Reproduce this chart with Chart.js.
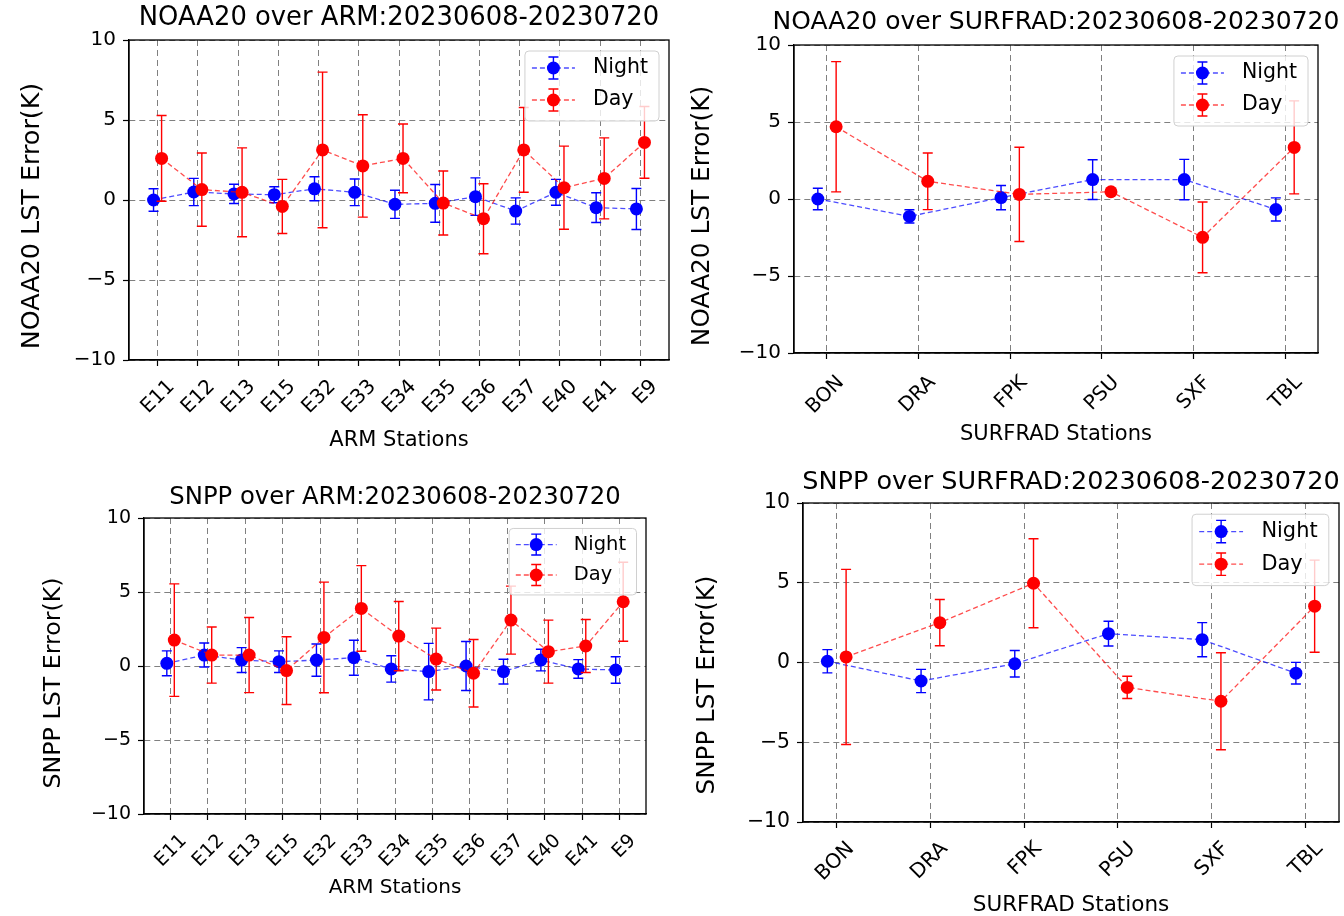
<!DOCTYPE html>
<html>
<head>
<meta charset="utf-8">
<title>LST Error over ARM and SURFRAD</title>
<script src="https://cdn.jsdelivr.net/npm/chart.js@4/dist/chart.umd.min.js"></script>
<style>
  body { margin: 0; background: #fff; width: 1344px; height: 916px; position: relative; overflow: hidden; }
  canvas { position: absolute; }
</style>
</head>
<body>
<canvas id="p1" width="672" height="458" style="left:0;top:0"></canvas>
<canvas id="p2" width="672" height="458" style="left:672px;top:0"></canvas>
<canvas id="p3" width="672" height="458" style="left:0;top:458px"></canvas>
<canvas id="p4" width="672" height="458" style="left:672px;top:458px"></canvas>
<script>
const FONT = "'DejaVu Sans', sans-serif";

// categories
const armStations = ["E11", "E12", "E13", "E15", "E32", "E33", "E34", "E35", "E36", "E37", "E40", "E41", "E9"];
const surfradStations = ["BON", "DRA", "FPK", "PSU", "SXF", "TBL"];
const yTicks = [-10, -5, 0, 5, 10];

// NOAA20 over ARM
const noaaArmNight = [0.0, 0.5, 0.38, 0.33, 0.7, 0.48, -0.27, -0.21, 0.21, -0.69, 0.48, -0.48, -0.56];
const noaaArmNightErr = [0.7, 0.85, 0.6, 0.5, 0.75, 0.83, 0.88, 1.18, 1.17, 0.82, 0.81, 0.93, 1.28];
const noaaArmDay = [2.6, 0.65, 0.48, -0.4, 3.13, 2.13, 2.6, -0.19, -1.17, 3.13, 0.77, 1.35, 3.6];
const noaaArmDayErr = [2.68, 2.29, 2.78, 1.69, 4.86, 3.2, 2.15, 2.0, 2.19, 2.65, 2.6, 2.53, 2.24];

// NOAA20 over SURFRAD
const noaaSurfNight = [0.0, -1.13, 0.09, 1.26, 1.26, -0.68];
const noaaSurfNightErr = [0.7, 0.43, 0.79, 1.29, 1.31, 0.75];
const noaaSurfDay = [4.69, 1.15, 0.3, 0.47, -2.49, 3.35];
const noaaSurfDayErr = [4.23, 1.84, 3.06, 0.2, 2.3, 3.02];

// SNPP over ARM
const snppArmNight = [0.18, 0.74, 0.4, 0.29, 0.4, 0.56, -0.2, -0.38, 0.0, -0.38, 0.4, -0.2, -0.27];
const snppArmNightErr = [0.84, 0.81, 0.84, 0.73, 1.09, 1.18, 0.89, 1.91, 1.66, 0.84, 0.73, 0.63, 0.9];
const snppArmDay = [1.75, 0.74, 0.74, -0.31, 1.93, 3.89, 2.02, 0.47, -0.49, 3.1, 0.97, 1.35, 4.34];
const snppArmDayErr = [3.8, 1.9, 2.54, 2.29, 3.74, 2.89, 2.34, 2.09, 2.28, 2.3, 2.13, 1.79, 2.67];

// SNPP over SURFRAD
const snppSurfNight = [0.08, -1.16, -0.08, 1.81, 1.43, -0.67];
const snppSurfNightErr = [0.73, 0.73, 0.83, 0.78, 1.07, 0.68];
const snppSurfDay = [0.35, 2.5, 4.97, -1.56, -2.43, 3.53];
const snppSurfDayErr = [5.49, 1.45, 2.79, 0.7, 3.04, 2.89];

// error bars, drawn under each dataset's own line and markers
const errorBars = {
  id: "errorBars",
  beforeDatasetDraw(chart, args) {
    const ds = chart.data.datasets[args.index];
    if (!ds.errors) return;
    const y = chart.scales.y;
    const a = chart.chartArea;
    const ctx = chart.ctx;
    ctx.save();
    ctx.beginPath();
    ctx.rect(a.left, a.top, a.width, a.height);
    ctx.clip();
    ctx.strokeStyle = ds.pointBackgroundColor;
    ctx.lineWidth = 1.4;
    args.meta.data.forEach((pt, i) => {
      const v = ds.data[i].y, e = ds.errors[i];
      const y1 = y.getPixelForValue(v + e);
      const y2 = y.getPixelForValue(v - e);
      ctx.beginPath();
      ctx.moveTo(pt.x, y1); ctx.lineTo(pt.x, y2);
      ctx.moveTo(pt.x - 5, y1); ctx.lineTo(pt.x + 5, y1);
      ctx.moveTo(pt.x - 5, y2); ctx.lineTo(pt.x + 5, y2);
      ctx.stroke();
    });
    ctx.restore();
  }
};

// box around the axes
const frame = {
  id: "frame",
  afterDatasetsDraw(chart) {
    const { ctx, chartArea: a } = chart;
    ctx.save();
    ctx.strokeStyle = "#000";
    ctx.lineWidth = 1.3;
    ctx.strokeRect(a.left, a.top, a.width, a.height);
    ctx.restore();
  }
};

// title centred over the axes (may be wider than them) and rotated y label
const axesText = {
  id: "axesText",
  afterDraw(chart, args, opts) {
    const { ctx, chartArea: a } = chart;
    ctx.save();
    ctx.fillStyle = "#000";
    ctx.textAlign = "center";
    ctx.textBaseline = "middle";
    ctx.font = opts.titleSize + "px " + FONT;
    ctx.fillText(opts.title, (a.left + a.right) / 2, opts.titleY);
    ctx.translate(opts.ylabX, opts.ylabY);
    ctx.rotate(-Math.PI / 2);
    ctx.font = opts.ylabSize + "px " + FONT;
    ctx.fillText(opts.ylabel, 0, 0);
    ctx.restore();
  }
};

// matplotlib style legend in the upper right corner
const mplLegend = {
  id: "mplLegend",
  afterDraw(chart, args, opts) {
    const { ctx, chartArea: a } = chart;
    const k = opts.scale || 1;
    const size = 20.5 * k;
    ctx.save();
    ctx.font = size + "px " + FONT;
    const sets = chart.data.datasets;
    const textW = Math.max(...sets.map(d => ctx.measureText(d.label).width));
    const w = 68 * k + textW + 11 * k;
    const h = 70 * k;
    const x0 = a.right - 10 * k - w;
    const y0 = a.top + 11 * k;

    ctx.beginPath();
    ctx.roundRect(x0, y0, w, h, 4);
    ctx.fillStyle = "rgba(255,255,255,0.8)";
    ctx.fill();
    ctx.strokeStyle = "#d0d0d0";
    ctx.lineWidth = 1;
    ctx.stroke();

    sets.forEach((d, i) => {
      const cy = y0 + (17 + 32 * i) * k;
      const lx1 = x0 + 7 * k, lx2 = x0 + 50 * k, cx = (lx1 + lx2) / 2;
      ctx.strokeStyle = d.borderColor;
      ctx.lineWidth = d.borderWidth;
      ctx.setLineDash(d.borderDash);
      ctx.beginPath();
      ctx.moveTo(lx1, cy); ctx.lineTo(lx2, cy);
      ctx.stroke();
      ctx.setLineDash([]);
      ctx.strokeStyle = d.pointBackgroundColor;
      ctx.lineWidth = 1.4;
      const eh = 11 * k;
      ctx.beginPath();
      ctx.moveTo(cx, cy - eh); ctx.lineTo(cx, cy + eh);
      ctx.moveTo(cx - 5, cy - eh); ctx.lineTo(cx + 5, cy - eh);
      ctx.moveTo(cx - 5, cy + eh); ctx.lineTo(cx + 5, cy + eh);
      ctx.stroke();
      ctx.fillStyle = d.pointBackgroundColor;
      ctx.beginPath();
      ctx.arc(cx, cy, d.pointRadius, 0, Math.PI * 2);
      ctx.fill();
      ctx.fillStyle = "#000";
      ctx.textBaseline = "middle";
      ctx.fillText(d.label, x0 + 68 * k, cy);
    });
    ctx.restore();
  }
};

function series(label, values, errors, color, lineColor, offset, order) {
  return {
    label: label,
    data: values.map((v, i) => ({ x: i + offset, y: v })),
    errors: errors,
    order: order,
    borderColor: lineColor,
    borderWidth: 1.3,
    borderDash: [5, 3],
    pointBackgroundColor: color,
    pointBorderWidth: 0,
    pointRadius: 6.5,
    pointHoverRadius: 6.5,
    tension: 0,
    fill: false
  };
}

function makePanel(id, p) {
  const W = 672, H = 458;
  const n = p.stations.length;
  const lo = -0.1, hi = n - 1 + 0.1, m = 0.05 * (hi - lo);
  const k = p.scale;
  const xlabSize = p.xlabSize, tickSize = 20 * k;

  new Chart(document.getElementById(id), {
    type: "line",
    data: {
      datasets: [
        series("Night", p.night, p.nightErr, "#0000ff", "rgba(0,0,255,0.7)", -0.1, 2),
        series("Day", p.day, p.dayErr, "#ff0000", "rgba(255,0,0,0.7)", 0.1, 1)
      ]
    },
    plugins: [errorBars, frame, axesText, mplLegend],
    options: {
      responsive: false,
      animation: false,
      events: [],
      layout: {
        autoPadding: false,
        padding: { left: 0, top: p.T, right: W - p.R, bottom: 0 }
      },
      plugins: {
        legend: { display: false },
        tooltip: { enabled: false },
        title: { display: false },
        mplLegend: { scale: k },
        axesText: {
          title: p.title, titleY: p.titleCy, titleSize: p.titleSize,
          ylabel: p.ylabel, ylabX: p.ylabCx, ylabY: p.ylabCy, ylabSize: p.ylabSize
        }
      },
      scales: {
        x: {
          type: "linear",
          min: lo - m,
          max: hi + m,
          afterBuildTicks: s => { s.ticks = p.stations.map((_, i) => ({ value: i })); },
          afterFit: s => { s.height = H - p.B; },
          ticks: {
            autoSkip: false,
            minRotation: 45,
            maxRotation: 45,
            labelOffset: 14 * k,
            padding: p.xtPad,
            color: "#000",
            font: { family: FONT, size: tickSize },
            callback: v => p.stations[Math.round(v)]
          },
          grid: { color: "#808080", lineWidth: 1, drawTicks: true, tickLength: 6, tickColor: "#000", tickWidth: 1.2 },
          border: { display: true, color: "#000", width: 1.3, dash: [6, 4] },
          title: {
            display: true,
            text: p.xlabel,
            color: "#000",
            font: { family: FONT, size: xlabSize, lineHeight: 1 },
            padding: { top: 0, bottom: H - p.xlabCy - xlabSize / 2 }
          }
        },
        y: {
          type: "linear",
          min: -10,
          max: 10,
          afterBuildTicks: s => { s.ticks = yTicks.map(v => ({ value: v })); },
          afterFit: s => { s.width = p.L; },
          ticks: {
            padding: 7,
            color: "#000",
            font: { family: FONT, size: tickSize },
            callback: v => (v < 0 ? "\u2212" + Math.abs(v) : String(v))
          },
          grid: { color: "#808080", lineWidth: 1, drawTicks: true, tickLength: 6, tickColor: "#000", tickWidth: 1.2 },
          border: { display: true, color: "#000", width: 1.3, dash: [6, 4] },
          title: { display: false }
        }
      }
    }
  });
}

makePanel("p1", {
  stations: armStations, night: noaaArmNight, nightErr: noaaArmNightErr, day: noaaArmDay, dayErr: noaaArmDayErr,
  title: "NOAA20 over ARM:20230608-20230720", xlabel: "ARM Stations", ylabel: "NOAA20 LST Error(K)",
  L: 129, T: 40, R: 669, B: 360, titleCy: 18.5, titleSize: 25.8, xlabCy: 441, xlabSize: 21, xtPad: 9,
  ylabCx: 32, ylabCy: 216, ylabSize: 25.4, scale: 1
});
makePanel("p2", {
  stations: surfradStations, night: noaaSurfNight, nightErr: noaaSurfNightErr, day: noaaSurfDay, dayErr: noaaSurfDayErr,
  title: "NOAA20 over SURFRAD:20230608-20230720", xlabel: "SURFRAD Stations", ylabel: "NOAA20 LST Error(K)",
  L: 122, T: 45, R: 646, B: 353, titleCy: 22, titleSize: 25, xlabCy: 435, xlabSize: 21, xtPad: 12,
  ylabCx: 31, ylabCy: 216, ylabSize: 24.8, scale: 1
});
makePanel("p3", {
  stations: armStations, night: snppArmNight, nightErr: snppArmNightErr, day: snppArmDay, dayErr: snppArmDayErr,
  title: "SNPP over ARM:20230608-20230720", xlabel: "ARM Stations", ylabel: "SNPP LST Error(K)",
  L: 144, T: 60, R: 646, B: 356, titleCy: 40, titleSize: 24.3, xlabCy: 430, xlabSize: 20, xtPad: 10,
  ylabCx: 54, ylabCy: 225, ylabSize: 23.7, scale: 0.95
});
makePanel("p4", {
  stations: surfradStations, night: snppSurfNight, nightErr: snppSurfNightErr, day: snppSurfDay, dayErr: snppSurfDayErr,
  title: "SNPP over SURFRAD:20230608-20230720", xlabel: "SURFRAD Stations", ylabel: "SNPP LST Error(K)",
  L: 131, T: 45, R: 667, B: 364, titleCy: 24, titleSize: 25.5, xlabCy: 447, xlabSize: 21.5, xtPad: 9,
  ylabCx: 36, ylabCy: 227, ylabSize: 24.6, scale: 1.02
});
</script>
</body>
</html>
